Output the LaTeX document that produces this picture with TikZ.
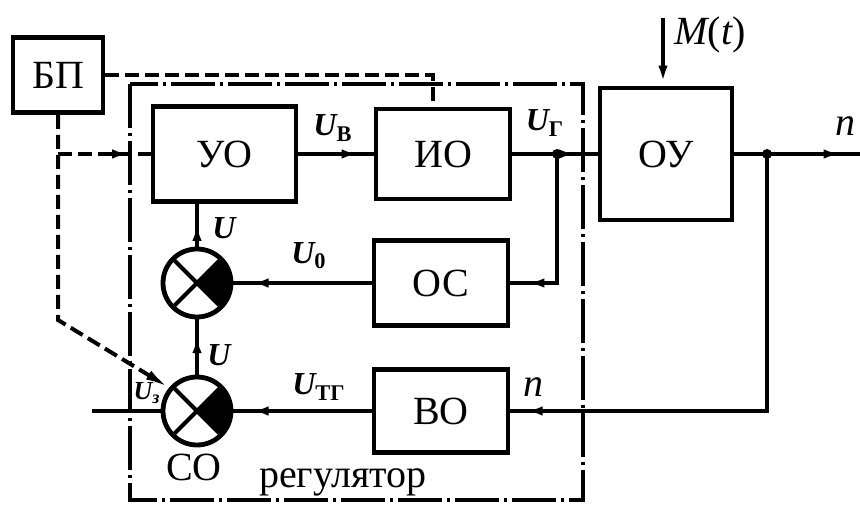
\documentclass[tikz,border=0pt]{standalone}
\usepackage{fontspec}
\setmainfont{Liberation Serif}
\usetikzlibrary{arrows.meta, positioning, decorations.markings, calc}
\tikzset{
  blk/.style={draw, line width=2.4pt, inner sep=0pt,
              font=\fontsize{20}{24}\selectfont},
  summ/.style={circle, draw, line width=2.4pt, minimum size=34pt, inner sep=0pt,
               path picture={
                 \coordinate (pc) at (path picture bounding box.center);
                 \fill (pc) -- ++(45:30pt) -- ++(0,-42.5pt) -- cycle;
                 \draw[line width=2pt] (pc) ++(45:20pt) -- ++(225:40pt);
                 \draw[line width=2pt] (pc) ++(135:20pt) -- ++(-45:40pt);
               }},
  sig/.style={line width=2pt},
  pwr/.style={line width=2pt, dash pattern=on 7pt off 3pt},
  regline/.style={line width=1.6pt, dash pattern=on 22pt off 2.5pt on 1.5pt off 2.5pt},
  midarr/.style={postaction={decorate}, decoration={markings,
                 mark=at position #1 with {\arrow{Latex[length=10pt,width=4.5pt]}}}},
  lbl/.style={font=\fontsize{16}{18}\selectfont\bfseries\itshape},
  vlbl/.style={font=\fontsize{20}{24}\selectfont\itshape},
  txt/.style={font=\fontsize{20}{24}\selectfont},
}
\begin{document}
\begin{tikzpicture}[x=0.5pt, y=-0.5pt]
  \useasboundingbox (0,0) rectangle (860,506);
  % blocks
  \node[blk, minimum width=45pt, minimum height=37.5pt] (bp) at (58,75) {БП};
  \node[blk, minimum width=71.5pt, minimum height=47.5pt] (uo) at (224.5,154) {УО};
  \node[blk, minimum width=67pt, minimum height=45pt] (io) at (443,154) {ИО};
  \node[blk, minimum width=66pt, minimum height=66pt] (ou) at (666,154) {ОУ};
  \node[blk, minimum width=67pt, minimum height=42.5pt] (os) at (441,283) {ОС};
  \node[blk, minimum width=67pt, minimum height=41.5pt] (vo) at (441,411) {ВО};
  \node[summ] (c1) at (197,283) {};
  \node[summ] (c2) at (197,411) {};
  \coordinate (jg) at (557,154);
  \coordinate (jn) at (767,154);
  \coordinate (outn) at (860,154);
  \coordinate (mt) at (663,18);
  \coordinate (zin) at (92,411);
  \coordinate (bend) at (58,320);
  % regulator border
  \draw[regline] (130,84) rectangle (583,500);
  % signal lines
  \draw[sig, midarr=0.84] (uo) -- (io);
  \draw[sig, midarr=0.78] (io) -- (ou);
  \draw[sig, midarr=0.87] (ou.east) -- (outn);
  \draw[sig, midarr=0.92] (jg) |- (os.east);
  \draw[sig, midarr=0.89] (os) -- (c1);
  \draw[sig, midarr=0.976] (jn) |- (vo.east);
  \draw[sig, midarr=0.89] (vo) -- (c2);
  \draw[sig, midarr=0.6] (c1.north) -- (c1.north |- uo.south);
  \draw[sig, midarr=0.75] (c2) -- (c1);
  \draw[sig] (zin) -- (c2);
  \draw[sig, -{Latex[length=10pt,width=4.5pt]}] (mt) -- (mt |- ou.north);
  \fill (jg) circle (2.5pt);
  \fill (jn) circle (2.5pt);
  % supply lines
  \draw[pwr] (bp.east) -| ([xshift=-5pt]io.north);
  \draw[pwr, midarr=0.8] (bp.south |- uo.west) -- (uo.west);
  \draw[pwr, -{Latex[length=12pt,width=5pt]}] (bp.south) -- (bend) -- (c2.140);
  % labels
  \node[lbl] (luv) at (333,128) {U\textsubscript{\upshape В}};
  \node[lbl] (lug) at (545,123) {U\textsubscript{\upshape Г}};
  \node[lbl] (lu1) at (224,228) {U};
  \node[lbl] (lu0) at (309,256) {U\textsubscript{\upshape 0}};
  \node[lbl] (lu2) at (219,355) {U};
  \node[lbl] (lutg) at (319,387) {U\textsubscript{\upshape ТГ}};
  \node[font=\fontsize{13}{15}\selectfont\bfseries\itshape] (luz) at (147,393) {U\textsubscript{з}};
  \node[vlbl] (ln1) at (533,387) {n};
  \node[vlbl] (ln2) at (845,126) {n};
  \node[vlbl] (lm) at (710,35) {M\upshape(\itshape t\upshape)};
  \node[txt] (lco) at (194,467) {СО};
  \node[txt] (lreg) at (343,482) {регулятор};
\end{tikzpicture}
\end{document}
